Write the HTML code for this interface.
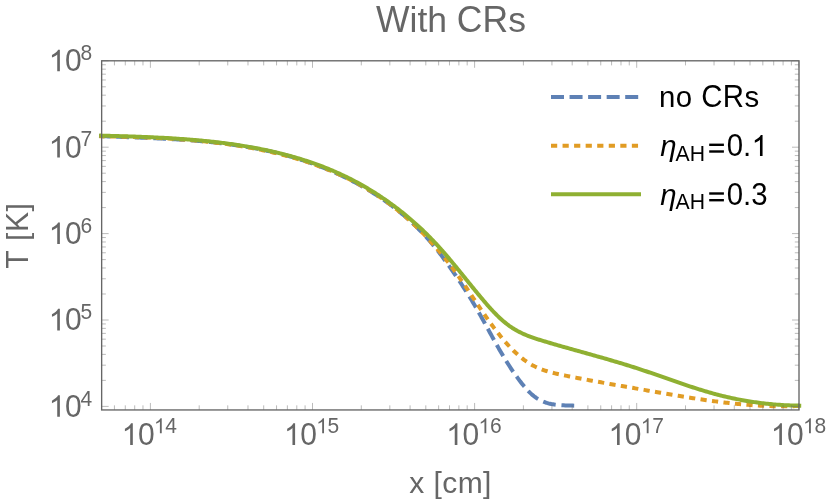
<!DOCTYPE html>
<html><head><meta charset="utf-8"><title>With CRs</title>
<style>
html,body{margin:0;padding:0;background:#fff;}
svg{display:block;font-family:"Liberation Sans",sans-serif;font-kerning:none;will-change:transform;}
</style></head>
<body>
<svg width="830" height="503" viewBox="0 0 830 503">
<rect width="830" height="503" fill="#fff"/>
<g fill="none" stroke-linejoin="round">
<path d="M99.00,136.00 L100.50,136.06 L102.00,136.13 L103.50,136.19 L105.00,136.26 L106.50,136.32 L108.00,136.38 L109.51,136.44 L111.01,136.50 L112.51,136.56 L114.02,136.62 L115.52,136.68 L117.02,136.74 L118.53,136.80 L120.03,136.86 L121.54,136.91 L123.05,136.97 L124.55,137.03 L126.06,137.09 L127.56,137.14 L129.07,137.20 L130.58,137.26 L132.08,137.32 L133.59,137.38 L135.10,137.44 L136.61,137.49 L138.12,137.55 L139.62,137.61 L141.13,137.68 L142.64,137.74 L144.15,137.80 L145.66,137.86 L147.17,137.92 L148.67,137.99 L150.18,138.05 L151.69,138.12 L153.20,138.19 L154.71,138.26 L156.22,138.33 L157.73,138.40 L159.24,138.47 L160.74,138.54 L162.25,138.62 L163.76,138.69 L165.27,138.77 L166.78,138.85 L168.29,138.93 L169.79,139.01 L171.30,139.10 L172.81,139.18 L174.32,139.27 L175.83,139.36 L177.33,139.45 L178.84,139.54 L180.35,139.64 L181.85,139.74 L183.36,139.84 L184.87,139.94 L186.37,140.04 L187.88,140.15 L189.38,140.26 L190.89,140.37 L192.39,140.49 L193.90,140.60 L195.40,140.72 L196.90,140.84 L198.41,140.97 L199.91,141.10 L201.41,141.23 L202.91,141.36 L204.41,141.50 L205.92,141.64 L207.42,141.78 L208.92,141.92 L210.42,142.07 L211.91,142.23 L213.41,142.38 L214.91,142.54 L216.41,142.70 L217.90,142.87 L219.40,143.04 L220.90,143.21 L222.39,143.39 L223.89,143.57 L225.38,143.75 L226.87,143.94 L228.36,144.13 L229.86,144.33 L231.35,144.53 L232.84,144.73 L234.33,144.94 L235.81,145.15 L237.30,145.37 L238.79,145.59 L240.28,145.81 L241.76,146.04 L243.25,146.28 L244.73,146.52 L246.21,146.76 L247.70,147.01 L249.18,147.26 L250.66,147.52 L252.14,147.78 L253.62,148.05 L255.09,148.32 L256.57,148.60 L258.05,148.88 L259.52,149.17 L260.99,149.46 L262.47,149.76 L263.94,150.06 L265.41,150.37 L266.88,150.68 L268.35,151.00 L269.82,151.33 L271.28,151.66 L272.75,151.99 L274.21,152.33 L275.68,152.68 L277.14,153.04 L278.60,153.39 L280.06,153.76 L281.52,154.13 L282.98,154.51 L284.43,154.89 L285.89,155.28 L287.34,155.68 L288.79,156.08 L290.25,156.49 L291.70,156.90 L293.14,157.32 L294.59,157.75 L296.04,158.18 L297.48,158.62 L298.93,159.07 L300.37,159.52 L301.81,159.98 L303.25,160.45 L304.68,160.92 L306.12,161.40 L307.55,161.89 L308.99,162.38 L310.42,162.88 L311.84,163.39 L313.27,163.90 L314.69,164.42 L316.12,164.95 L317.54,165.48 L318.95,166.02 L320.37,166.57 L321.78,167.12 L323.19,167.68 L324.60,168.25 L326.01,168.82 L327.41,169.40 L328.81,169.98 L330.21,170.57 L331.60,171.17 L332.99,171.78 L334.38,172.39 L335.77,173.01 L337.15,173.63 L338.53,174.26 L339.91,174.90 L341.28,175.54 L342.65,176.19 L344.02,176.85 L345.38,177.52 L346.74,178.19 L348.10,178.86 L349.45,179.55 L350.80,180.24 L352.15,180.93 L353.49,181.64 L354.83,182.34 L356.17,183.06 L357.50,183.78 L358.82,184.51 L360.15,185.25 L361.47,185.99 L362.78,186.74 L364.09,187.49 L365.40,188.26 L366.70,189.02 L368.00,189.80 L369.29,190.58 L370.58,191.37 L371.86,192.16 L373.14,192.96 L374.42,193.77 L375.69,194.58 L376.96,195.40 L378.22,196.23 L379.47,197.06 L380.72,197.90 L381.97,198.75 L383.21,199.60 L384.44,200.46 L385.68,201.32 L386.90,202.20 L388.12,203.07 L389.33,203.96 L390.54,204.85 L391.75,205.75 L392.95,206.65 L394.14,207.56 L395.32,208.48 L396.51,209.40 L397.68,210.33 L398.85,211.27 L400.01,212.21 L401.17,213.16 L402.32,214.12 L403.47,215.08 L404.61,216.05 L405.74,217.02 L406.87,218.01 L407.99,218.99 L409.10,219.99 L410.21,220.99 L411.31,222.00 L412.40,223.01 L413.49,224.03 L414.57,225.06 L415.65,226.09 L416.72,227.13 L417.78,228.18 L418.83,229.23 L419.88,230.29 L420.92,231.35 L421.95,232.42 L422.98,233.50 L423.99,234.59 L425.01,235.68 L426.01,236.77 L427.01,237.88 L428.00,238.99 L428.98,240.10 L429.95,241.23 L430.92,242.36 L431.88,243.49 L432.83,244.63 L433.78,245.78 L434.72,246.93 L435.66,248.09 L436.59,249.25 L437.51,250.42 L438.43,251.60 L439.35,252.78 L440.26,253.96 L441.16,255.15 L442.06,256.35 L442.96,257.55 L443.85,258.76 L444.74,259.97 L445.63,261.18 L446.51,262.40 L447.39,263.62 L448.27,264.85 L449.15,266.08 L450.02,267.32 L450.89,268.56 L451.76,269.80 L452.63,271.05 L453.49,272.30 L454.36,273.56 L455.22,274.82 L456.08,276.08 L456.94,277.34 L457.80,278.61 L458.65,279.88 L459.50,281.16 L460.35,282.44 L461.20,283.72 L462.04,285.00 L462.88,286.29 L463.72,287.57 L464.55,288.87 L465.38,290.16 L466.21,291.45 L467.03,292.75 L467.85,294.05 L468.66,295.35 L469.47,296.66 L470.27,297.96 L471.07,299.27 L471.86,300.58 L472.65,301.89 L473.43,303.20 L474.21,304.51 L474.98,305.82 L475.75,307.14 L476.51,308.45 L477.27,309.77 L478.02,311.09 L478.77,312.40 L479.51,313.72 L480.26,315.04 L480.99,316.36 L481.73,317.68 L482.46,319.00 L483.19,320.32 L483.92,321.64 L484.65,322.96 L485.37,324.28 L486.10,325.59 L486.82,326.91 L487.54,328.23 L488.26,329.55 L488.98,330.86 L489.70,332.18 L490.42,333.49 L491.14,334.81 L491.86,336.12 L492.58,337.43 L493.31,338.74 L494.03,340.05 L494.76,341.36 L495.49,342.66 L496.22,343.97 L496.95,345.27 L497.69,346.57 L498.43,347.87 L499.17,349.16 L499.92,350.46 L500.67,351.75 L501.42,353.04 L502.18,354.32 L502.94,355.61 L503.71,356.89 L504.48,358.17 L505.26,359.44 L506.05,360.71 L506.84,361.98 L507.63,363.25 L508.44,364.51 L509.25,365.77 L510.06,367.03 L510.89,368.28 L511.72,369.53 L512.56,370.77 L513.41,372.01 L514.26,373.25 L515.12,374.48 L516.00,375.71 L516.88,376.93 L517.77,378.15 L518.67,379.37 L519.58,380.58 L520.50,381.78 L521.43,382.99 L522.38,384.18 L523.33,385.36 L524.30,386.53 L525.29,387.69 L526.29,388.82 L527.30,389.94 L528.34,391.04 L529.40,392.10 L530.47,393.14 L531.57,394.15 L532.69,395.13 L533.84,396.07 L535.01,396.97 L536.21,397.83 L537.44,398.65 L538.69,399.42 L539.98,400.14 L541.29,400.81 L542.64,401.43 L544.02,401.99 L545.43,402.49 L546.87,402.94 L548.34,403.35 L549.83,403.70 L551.34,404.02 L552.86,404.29 L554.40,404.53 L555.95,404.73 L557.51,404.90 L559.06,405.05 L560.62,405.17 L562.18,405.27 L563.73,405.35 L565.28,405.42 L566.81,405.47 L568.33,405.51 L569.83,405.55 L571.31,405.58 L572.76,405.62 L574.19,405.66" stroke="#5E81B5" stroke-width="4.0" stroke-dasharray="12.8 5.8" stroke-dashoffset="1.4"/>
<path d="M99.32,136.31 L100.77,136.33 L102.23,136.36 L103.69,136.38 L105.15,136.40 L106.62,136.43 L108.08,136.45 L109.55,136.48 L111.02,136.50 L112.49,136.53 L113.96,136.56 L115.44,136.59 L116.91,136.62 L118.39,136.65 L119.87,136.68 L121.35,136.72 L122.83,136.75 L124.31,136.79 L125.80,136.82 L127.28,136.86 L128.77,136.90 L130.26,136.94 L131.75,136.99 L133.24,137.03 L134.73,137.08 L136.23,137.12 L137.72,137.17 L139.21,137.22 L140.71,137.27 L142.21,137.32 L143.71,137.38 L145.21,137.44 L146.71,137.49 L148.21,137.55 L149.71,137.62 L151.21,137.68 L152.72,137.75 L154.22,137.81 L155.73,137.88 L157.23,137.95 L158.74,138.03 L160.25,138.10 L161.76,138.18 L163.27,138.26 L164.78,138.34 L166.29,138.43 L167.80,138.51 L169.31,138.60 L170.82,138.69 L172.33,138.79 L173.84,138.88 L175.36,138.98 L176.87,139.08 L178.38,139.19 L179.89,139.29 L181.41,139.40 L182.92,139.51 L184.44,139.63 L185.95,139.74 L187.47,139.86 L188.98,139.99 L190.49,140.11 L192.01,140.24 L193.52,140.37 L195.04,140.50 L196.55,140.64 L198.07,140.78 L199.58,140.92 L201.09,141.07 L202.61,141.22 L204.12,141.37 L205.63,141.53 L207.15,141.69 L208.66,141.85 L210.17,142.01 L211.68,142.18 L213.20,142.35 L214.71,142.53 L216.22,142.71 L217.73,142.89 L219.24,143.08 L220.75,143.27 L222.25,143.46 L223.76,143.66 L225.27,143.86 L226.78,144.06 L228.28,144.27 L229.79,144.48 L231.29,144.70 L232.79,144.92 L234.30,145.14 L235.80,145.37 L237.30,145.60 L238.80,145.84 L240.30,146.08 L241.79,146.32 L243.29,146.57 L244.79,146.82 L246.28,147.08 L247.77,147.34 L249.27,147.60 L250.76,147.87 L252.25,148.14 L253.73,148.42 L255.22,148.71 L256.71,148.99 L258.19,149.28 L259.68,149.58 L261.16,149.88 L262.64,150.18 L264.12,150.49 L265.59,150.81 L267.07,151.13 L268.54,151.45 L270.02,151.78 L271.49,152.11 L272.96,152.45 L274.42,152.80 L275.89,153.15 L277.35,153.50 L278.82,153.86 L280.28,154.22 L281.73,154.59 L283.19,154.96 L284.65,155.34 L286.10,155.73 L287.55,156.12 L289.00,156.51 L290.45,156.91 L291.89,157.32 L293.33,157.73 L294.77,158.14 L296.21,158.57 L297.65,158.99 L299.08,159.43 L300.52,159.87 L301.95,160.31 L303.37,160.76 L304.80,161.21 L306.22,161.68 L307.64,162.14 L309.06,162.62 L310.47,163.10 L311.89,163.58 L313.30,164.07 L314.70,164.57 L316.11,165.07 L317.51,165.58 L318.91,166.09 L320.31,166.61 L321.70,167.14 L323.09,167.67 L324.48,168.21 L325.87,168.76 L327.25,169.31 L328.63,169.87 L330.01,170.44 L331.38,171.01 L332.76,171.58 L334.12,172.17 L335.49,172.76 L336.85,173.36 L338.21,173.96 L339.57,174.57 L340.92,175.19 L342.27,175.81 L343.62,176.44 L344.96,177.08 L346.30,177.72 L347.64,178.38 L348.97,179.03 L350.30,179.70 L351.63,180.37 L352.95,181.05 L354.27,181.74 L355.59,182.43 L356.90,183.13 L358.21,183.84 L359.52,184.55 L360.82,185.27 L362.12,186.00 L363.41,186.74 L364.70,187.48 L365.99,188.23 L367.27,188.99 L368.55,189.76 L369.83,190.53 L371.10,191.31 L372.37,192.10 L373.63,192.90 L374.89,193.70 L376.15,194.52 L377.40,195.34 L378.65,196.16 L379.89,197.00 L381.13,197.84 L382.37,198.69 L383.60,199.55 L384.83,200.42 L386.05,201.29 L387.27,202.17 L388.48,203.07 L389.69,203.96 L390.90,204.87 L392.10,205.79 L393.30,206.71 L394.49,207.64 L395.68,208.58 L396.86,209.52 L398.04,210.48 L399.22,211.44 L400.39,212.40 L401.55,213.38 L402.71,214.36 L403.87,215.35 L405.02,216.34 L406.17,217.35 L407.31,218.35 L408.45,219.37 L409.58,220.39 L410.71,221.42 L411.83,222.45 L412.95,223.49 L414.06,224.54 L415.17,225.59 L416.27,226.65 L417.37,227.72 L418.46,228.79 L419.55,229.86 L420.63,230.94 L421.71,232.03 L422.78,233.12 L423.85,234.22 L424.91,235.32 L425.97,236.43 L427.02,237.54 L428.06,238.66 L429.10,239.78 L430.14,240.91 L431.17,242.04 L432.19,243.17 L433.21,244.31 L434.23,245.45 L435.23,246.60 L436.24,247.75 L437.23,248.91 L438.23,250.07 L439.21,251.23 L440.19,252.40 L441.17,253.57 L442.13,254.74 L443.10,255.92 L444.05,257.10 L445.01,258.29 L445.95,259.47 L446.89,260.66 L447.83,261.86 L448.75,263.05 L449.68,264.25 L450.59,265.45 L451.50,266.65 L452.41,267.86 L453.30,269.07 L454.20,270.28 L455.08,271.49 L455.96,272.70 L456.84,273.92 L457.71,275.14 L458.57,276.36 L459.43,277.58 L460.29,278.80 L461.14,280.03 L461.98,281.25 L462.83,282.48 L463.67,283.71 L464.51,284.94 L465.34,286.17 L466.17,287.40 L467.00,288.63 L467.83,289.86 L468.66,291.09 L469.48,292.33 L470.31,293.56 L471.13,294.80 L471.95,296.03 L472.78,297.26 L473.60,298.50 L474.42,299.73 L475.24,300.97 L476.07,302.20 L476.89,303.43 L477.72,304.66 L478.54,305.90 L479.37,307.13 L480.20,308.36 L481.04,309.59 L481.87,310.82 L482.71,312.04 L483.56,313.27 L484.40,314.50 L485.25,315.72 L486.11,316.94 L486.96,318.16 L487.83,319.38 L488.69,320.60 L489.57,321.81 L490.44,323.03 L491.33,324.24 L492.22,325.45 L493.11,326.65 L494.01,327.86 L494.92,329.06 L495.84,330.26 L496.76,331.46 L497.69,332.65 L498.63,333.84 L499.58,335.03 L500.53,336.21 L501.50,337.40 L502.47,338.57 L503.45,339.75 L504.44,340.91 L505.44,342.07 L506.45,343.22 L507.47,344.36 L508.50,345.49 L509.54,346.61 L510.59,347.72 L511.65,348.82 L512.72,349.90 L513.81,350.97 L514.90,352.03 L516.00,353.06 L517.12,354.08 L518.25,355.09 L519.39,356.07 L520.55,357.03 L521.71,357.98 L522.89,358.90 L524.08,359.80 L525.29,360.67 L526.50,361.52 L527.74,362.35 L528.98,363.15 L530.24,363.92 L531.51,364.67 L532.80,365.38 L534.10,366.07 L535.42,366.72 L536.75,367.35 L538.09,367.95 L539.45,368.52 L540.82,369.06 L542.20,369.58 L543.60,370.08 L545.00,370.56 L546.41,371.01 L547.83,371.45 L549.26,371.86 L550.70,372.26 L552.15,372.65 L553.60,373.02 L555.06,373.37 L556.52,373.72 L557.99,374.05 L559.46,374.37 L560.94,374.69 L562.42,375.00 L563.90,375.30 L565.38,375.60 L566.86,375.90 L568.35,376.19 L569.83,376.49 L571.31,376.78 L572.80,377.07 L574.28,377.36 L575.77,377.65 L577.25,377.93 L578.73,378.22 L580.22,378.50 L581.70,378.78 L583.19,379.06 L584.67,379.34 L586.16,379.62 L587.64,379.90 L589.13,380.17 L590.62,380.45 L592.10,380.72 L593.59,380.99 L595.07,381.27 L596.56,381.54 L598.04,381.81 L599.53,382.08 L601.02,382.34 L602.50,382.61 L603.99,382.88 L605.47,383.14 L606.96,383.41 L608.45,383.67 L609.93,383.94 L611.42,384.20 L612.90,384.46 L614.39,384.72 L615.88,384.98 L617.36,385.25 L618.85,385.51 L620.34,385.77 L621.82,386.03 L623.31,386.28 L624.79,386.54 L626.28,386.80 L627.77,387.06 L629.25,387.32 L630.74,387.58 L632.22,387.83 L633.71,388.09 L635.19,388.35 L636.68,388.61 L638.17,388.86 L639.65,389.12 L641.14,389.38 L642.62,389.64 L644.11,389.89 L645.59,390.15 L647.08,390.41 L648.56,390.67 L650.05,390.92 L651.53,391.18 L653.01,391.44 L654.50,391.70 L655.98,391.96 L657.47,392.21 L658.95,392.47 L660.43,392.73 L661.92,392.99 L663.40,393.24 L664.89,393.50 L666.37,393.75 L667.85,394.01 L669.34,394.26 L670.82,394.51 L672.31,394.76 L673.79,395.01 L675.28,395.26 L676.76,395.51 L678.24,395.76 L679.73,396.01 L681.21,396.25 L682.70,396.50 L684.18,396.74 L685.67,396.98 L687.15,397.22 L688.64,397.46 L690.12,397.69 L691.61,397.93 L693.09,398.16 L694.58,398.39 L696.06,398.62 L697.55,398.84 L699.04,399.07 L700.52,399.29 L702.01,399.51 L703.50,399.73 L704.98,399.94 L706.47,400.16 L707.96,400.37 L709.45,400.58 L710.94,400.78 L712.42,400.98 L713.91,401.18 L715.40,401.38 L716.89,401.58 L718.38,401.77 L719.87,401.96 L721.36,402.14 L722.85,402.32 L724.34,402.50 L725.84,402.68 L727.33,402.85 L728.82,403.02 L730.31,403.18 L731.81,403.35 L733.30,403.51 L734.79,403.66 L736.29,403.81 L737.78,403.96 L739.28,404.10 L740.77,404.24 L742.27,404.38 L743.77,404.51 L745.26,404.64 L746.76,404.76 L748.26,404.88 L749.76,404.99 L751.26,405.10 L752.76,405.21 L754.26,405.31 L755.76,405.41 L757.26,405.50 L758.76,405.59 L760.27,405.67 L761.77,405.75 L763.28,405.82 L764.78,405.89 L766.29,405.95 L767.79,406.01 L769.30,406.06 L770.80,406.11 L772.31,406.15 L773.82,406.19 L775.33,406.22 L776.84,406.24 L778.35,406.26 L779.86,406.28 L781.38,406.29 L782.89,406.29 L784.40,406.29 L785.92,406.28 L787.43,406.26 L788.95,406.24 L790.46,406.22 L791.98,406.18 L793.50,406.14 L795.02,406.10 L796.54,406.05 L798.06,405.99 L799.58,405.92 L801.10,405.85" stroke="#E19C24" stroke-width="4.0" stroke-dasharray="6.2 5.35" stroke-dashoffset="1.0"/>
<path d="M99.18,135.55 L100.65,135.59 L102.13,135.63 L103.60,135.67 L105.08,135.71 L106.56,135.75 L108.04,135.79 L109.52,135.83 L111.00,135.88 L112.49,135.92 L113.97,135.96 L115.46,136.00 L116.95,136.05 L118.43,136.09 L119.92,136.13 L121.41,136.18 L122.90,136.22 L124.40,136.27 L125.89,136.32 L127.38,136.36 L128.88,136.41 L130.38,136.46 L131.87,136.51 L133.37,136.56 L134.87,136.62 L136.37,136.67 L137.87,136.72 L139.37,136.78 L140.87,136.84 L142.37,136.90 L143.88,136.96 L145.38,137.02 L146.88,137.08 L148.39,137.14 L149.89,137.21 L151.40,137.27 L152.91,137.34 L154.41,137.41 L155.92,137.48 L157.43,137.56 L158.94,137.63 L160.44,137.71 L161.95,137.78 L163.46,137.86 L164.97,137.95 L166.48,138.03 L167.99,138.12 L169.50,138.20 L171.01,138.29 L172.52,138.39 L174.03,138.48 L175.54,138.58 L177.05,138.68 L178.57,138.78 L180.08,138.88 L181.59,138.99 L183.10,139.09 L184.61,139.20 L186.12,139.32 L187.63,139.43 L189.14,139.55 L190.65,139.67 L192.16,139.79 L193.67,139.92 L195.18,140.05 L196.69,140.18 L198.20,140.32 L199.71,140.45 L201.22,140.59 L202.73,140.74 L204.24,140.88 L205.75,141.03 L207.26,141.18 L208.76,141.34 L210.27,141.50 L211.78,141.66 L213.28,141.83 L214.79,142.00 L216.29,142.17 L217.80,142.34 L219.30,142.52 L220.80,142.70 L222.31,142.89 L223.81,143.08 L225.31,143.27 L226.81,143.47 L228.31,143.67 L229.81,143.87 L231.30,144.08 L232.80,144.29 L234.30,144.51 L235.79,144.73 L237.29,144.95 L238.78,145.18 L240.27,145.41 L241.76,145.65 L243.25,145.89 L244.74,146.13 L246.23,146.38 L247.72,146.63 L249.20,146.89 L250.69,147.15 L252.17,147.42 L253.66,147.69 L255.14,147.96 L256.62,148.24 L258.10,148.53 L259.57,148.81 L261.05,149.11 L262.52,149.41 L264.00,149.71 L265.47,150.02 L266.94,150.33 L268.41,150.65 L269.88,150.97 L271.34,151.29 L272.81,151.63 L274.27,151.96 L275.73,152.31 L277.19,152.65 L278.65,153.01 L280.11,153.36 L281.56,153.73 L283.02,154.09 L284.47,154.47 L285.92,154.85 L287.37,155.23 L288.81,155.62 L290.26,156.02 L291.70,156.42 L293.14,156.83 L294.58,157.24 L296.02,157.66 L297.45,158.08 L298.89,158.51 L300.32,158.95 L301.75,159.39 L303.17,159.83 L304.60,160.29 L306.02,160.75 L307.44,161.21 L308.86,161.68 L310.28,162.16 L311.69,162.65 L313.10,163.14 L314.51,163.63 L315.92,164.14 L317.33,164.64 L318.73,165.16 L320.13,165.68 L321.53,166.21 L322.92,166.74 L324.32,167.29 L325.71,167.83 L327.09,168.39 L328.48,168.95 L329.86,169.52 L331.24,170.09 L332.62,170.68 L334.00,171.26 L335.37,171.86 L336.74,172.46 L338.11,173.07 L339.47,173.69 L340.83,174.31 L342.19,174.94 L343.55,175.58 L344.90,176.23 L346.25,176.88 L347.60,177.54 L348.95,178.21 L350.29,178.88 L351.63,179.56 L352.96,180.25 L354.30,180.95 L355.63,181.65 L356.95,182.37 L358.28,183.08 L359.60,183.81 L360.92,184.54 L362.23,185.28 L363.54,186.03 L364.85,186.78 L366.15,187.54 L367.45,188.31 L368.75,189.09 L370.04,189.87 L371.33,190.66 L372.62,191.45 L373.90,192.25 L375.18,193.06 L376.45,193.87 L377.73,194.70 L378.99,195.52 L380.26,196.36 L381.52,197.20 L382.77,198.04 L384.02,198.90 L385.27,199.76 L386.51,200.62 L387.75,201.50 L388.99,202.37 L390.22,203.26 L391.44,204.15 L392.66,205.04 L393.88,205.95 L395.09,206.85 L396.30,207.77 L397.51,208.69 L398.71,209.61 L399.90,210.55 L401.09,211.48 L402.28,212.43 L403.46,213.37 L404.63,214.33 L405.80,215.29 L406.97,216.25 L408.13,217.22 L409.29,218.20 L410.44,219.18 L411.58,220.17 L412.73,221.16 L413.86,222.16 L414.99,223.16 L416.12,224.17 L417.24,225.18 L418.35,226.20 L419.46,227.22 L420.57,228.25 L421.67,229.28 L422.76,230.32 L423.85,231.36 L424.93,232.41 L426.01,233.46 L427.08,234.51 L428.14,235.58 L429.20,236.64 L430.26,237.71 L431.30,238.79 L432.35,239.87 L433.38,240.95 L434.41,242.04 L435.44,243.13 L436.46,244.23 L437.47,245.33 L438.48,246.43 L439.48,247.54 L440.48,248.66 L441.48,249.77 L442.47,250.89 L443.45,252.01 L444.44,253.14 L445.41,254.27 L446.39,255.40 L447.36,256.54 L448.33,257.67 L449.30,258.81 L450.26,259.96 L451.22,261.10 L452.18,262.25 L453.13,263.40 L454.09,264.55 L455.04,265.71 L455.99,266.86 L456.94,268.02 L457.88,269.18 L458.83,270.34 L459.78,271.51 L460.72,272.67 L461.67,273.84 L462.61,275.00 L463.55,276.17 L464.50,277.34 L465.44,278.51 L466.39,279.68 L467.33,280.85 L468.28,282.02 L469.23,283.19 L470.18,284.36 L471.13,285.53 L472.08,286.70 L473.03,287.87 L473.99,289.04 L474.94,290.21 L475.90,291.38 L476.87,292.55 L477.83,293.72 L478.80,294.89 L479.77,296.06 L480.75,297.22 L481.72,298.39 L482.71,299.55 L483.69,300.72 L484.68,301.88 L485.68,303.03 L486.68,304.19 L487.68,305.34 L488.69,306.48 L489.71,307.62 L490.73,308.75 L491.77,309.87 L492.80,310.99 L493.85,312.09 L494.91,313.18 L495.97,314.26 L497.04,315.33 L498.13,316.39 L499.22,317.43 L500.32,318.46 L501.44,319.47 L502.57,320.46 L503.70,321.44 L504.85,322.40 L506.02,323.34 L507.19,324.25 L508.38,325.15 L509.58,326.03 L510.80,326.88 L512.03,327.71 L513.28,328.51 L514.54,329.29 L515.82,330.04 L517.11,330.77 L518.42,331.47 L519.74,332.15 L521.08,332.81 L522.42,333.44 L523.78,334.06 L525.15,334.65 L526.53,335.23 L527.92,335.79 L529.32,336.33 L530.72,336.86 L532.13,337.37 L533.55,337.87 L534.97,338.35 L536.40,338.83 L537.84,339.29 L539.28,339.74 L540.72,340.19 L542.16,340.63 L543.60,341.07 L545.05,341.50 L546.49,341.93 L547.93,342.36 L549.38,342.78 L550.82,343.21 L552.27,343.63 L553.72,344.05 L555.16,344.47 L556.61,344.89 L558.05,345.30 L559.50,345.72 L560.94,346.13 L562.39,346.55 L563.84,346.96 L565.28,347.37 L566.73,347.78 L568.18,348.19 L569.62,348.59 L571.07,349.00 L572.51,349.41 L573.96,349.81 L575.41,350.22 L576.85,350.63 L578.30,351.03 L579.75,351.43 L581.19,351.84 L582.64,352.24 L584.09,352.65 L585.53,353.05 L586.98,353.46 L588.42,353.86 L589.87,354.27 L591.31,354.68 L592.76,355.08 L594.20,355.49 L595.65,355.90 L597.09,356.31 L598.54,356.72 L599.98,357.13 L601.43,357.54 L602.87,357.95 L604.32,358.37 L605.76,358.78 L607.20,359.20 L608.65,359.62 L610.09,360.03 L611.53,360.46 L612.97,360.88 L614.42,361.30 L615.86,361.73 L617.30,362.16 L618.74,362.59 L620.18,363.02 L621.62,363.46 L623.06,363.89 L624.50,364.33 L625.94,364.78 L627.38,365.22 L628.82,365.67 L630.26,366.12 L631.69,366.57 L633.13,367.03 L634.57,367.48 L636.00,367.95 L637.44,368.41 L638.87,368.88 L640.31,369.35 L641.74,369.82 L643.18,370.30 L644.61,370.78 L646.04,371.26 L647.48,371.75 L648.91,372.24 L650.34,372.72 L651.77,373.22 L653.20,373.71 L654.63,374.20 L656.06,374.70 L657.50,375.20 L658.93,375.70 L660.36,376.19 L661.79,376.69 L663.22,377.19 L664.65,377.70 L666.08,378.20 L667.51,378.70 L668.94,379.20 L670.37,379.70 L671.80,380.20 L673.23,380.69 L674.66,381.19 L676.09,381.69 L677.52,382.18 L678.95,382.67 L680.38,383.17 L681.81,383.66 L683.25,384.14 L684.68,384.63 L686.11,385.11 L687.55,385.59 L688.98,386.07 L690.41,386.54 L691.85,387.01 L693.28,387.48 L694.72,387.94 L696.15,388.40 L697.59,388.86 L699.03,389.31 L700.46,389.76 L701.90,390.20 L703.34,390.64 L704.78,391.08 L706.22,391.51 L707.66,391.93 L709.11,392.35 L710.55,392.76 L711.99,393.17 L713.44,393.57 L714.88,393.97 L716.33,394.35 L717.78,394.74 L719.23,395.11 L720.68,395.48 L722.13,395.84 L723.58,396.20 L725.03,396.55 L726.49,396.89 L727.94,397.22 L729.40,397.55 L730.85,397.87 L732.31,398.19 L733.77,398.50 L735.23,398.80 L736.70,399.09 L738.16,399.38 L739.63,399.66 L741.09,399.94 L742.56,400.21 L744.03,400.47 L745.50,400.73 L746.97,400.98 L748.45,401.22 L749.92,401.46 L751.40,401.69 L752.88,401.91 L754.36,402.13 L755.84,402.34 L757.33,402.55 L758.81,402.75 L760.30,402.94 L761.79,403.13 L763.28,403.31 L764.77,403.48 L766.27,403.65 L767.76,403.81 L769.26,403.96 L770.76,404.11 L772.26,404.25 L773.77,404.38 L775.27,404.51 L776.78,404.63 L778.29,404.74 L779.81,404.85 L781.32,404.95 L782.84,405.05 L784.36,405.13 L785.88,405.22 L787.40,405.29 L788.93,405.36 L790.46,405.42 L791.99,405.47 L793.52,405.52 L795.05,405.56 L796.59,405.60 L798.13,405.62 L799.67,405.64 L801.22,405.66" stroke="#8FB032" stroke-width="4.0"/>
</g>
<path d="M114.44,409.95 v-4.6 M114.44,60.8 v4.6 M125.29,409.95 v-4.6 M125.29,60.8 v4.6 M134.69,409.95 v-4.6 M134.69,60.8 v4.6 M142.98,409.95 v-4.6 M142.98,60.8 v4.6 M150.40,409.95 v-7.0 M150.40,60.8 v7.0 M199.20,409.95 v-4.6 M199.20,60.8 v4.6 M227.74,409.95 v-4.6 M227.74,60.8 v4.6 M247.99,409.95 v-4.6 M247.99,60.8 v4.6 M263.70,409.95 v-4.6 M263.70,60.8 v4.6 M276.54,409.95 v-4.6 M276.54,60.8 v4.6 M287.39,409.95 v-4.6 M287.39,60.8 v4.6 M296.79,409.95 v-4.6 M296.79,60.8 v4.6 M305.08,409.95 v-4.6 M305.08,60.8 v4.6 M312.50,409.95 v-7.0 M312.50,60.8 v7.0 M361.30,409.95 v-4.6 M361.30,60.8 v4.6 M389.84,409.95 v-4.6 M389.84,60.8 v4.6 M410.09,409.95 v-4.6 M410.09,60.8 v4.6 M425.80,409.95 v-4.6 M425.80,60.8 v4.6 M438.64,409.95 v-4.6 M438.64,60.8 v4.6 M449.49,409.95 v-4.6 M449.49,60.8 v4.6 M458.89,409.95 v-4.6 M458.89,60.8 v4.6 M467.18,409.95 v-4.6 M467.18,60.8 v4.6 M474.60,409.95 v-7.0 M474.60,60.8 v7.0 M523.40,409.95 v-4.6 M523.40,60.8 v4.6 M551.94,409.95 v-4.6 M551.94,60.8 v4.6 M572.19,409.95 v-4.6 M572.19,60.8 v4.6 M587.90,409.95 v-4.6 M587.90,60.8 v4.6 M600.74,409.95 v-4.6 M600.74,60.8 v4.6 M611.59,409.95 v-4.6 M611.59,60.8 v4.6 M620.99,409.95 v-4.6 M620.99,60.8 v4.6 M629.28,409.95 v-4.6 M629.28,60.8 v4.6 M636.70,409.95 v-7.0 M636.70,60.8 v7.0 M685.50,409.95 v-4.6 M685.50,60.8 v4.6 M714.04,409.95 v-4.6 M714.04,60.8 v4.6 M734.29,409.95 v-4.6 M734.29,60.8 v4.6 M750.00,409.95 v-4.6 M750.00,60.8 v4.6 M762.84,409.95 v-4.6 M762.84,60.8 v4.6 M773.69,409.95 v-4.6 M773.69,60.8 v4.6 M783.09,409.95 v-4.6 M783.09,60.8 v4.6 M791.38,409.95 v-4.6 M791.38,60.8 v4.6 M798.80,409.95 v-7.0 M798.80,60.8 v7.0 M101.65,406.40 h7.0 M799.0,406.40 h-7.0 M101.65,380.39 h4.2 M799.0,380.39 h-4.2 M101.65,365.18 h4.2 M799.0,365.18 h-4.2 M101.65,354.38 h4.2 M799.0,354.38 h-4.2 M101.65,346.01 h4.2 M799.0,346.01 h-4.2 M101.65,339.17 h4.2 M799.0,339.17 h-4.2 M101.65,333.38 h4.2 M799.0,333.38 h-4.2 M101.65,328.37 h4.2 M799.0,328.37 h-4.2 M101.65,323.95 h4.2 M799.0,323.95 h-4.2 M101.65,320.00 h7.0 M799.0,320.00 h-7.0 M101.65,293.99 h4.2 M799.0,293.99 h-4.2 M101.65,278.78 h4.2 M799.0,278.78 h-4.2 M101.65,267.98 h4.2 M799.0,267.98 h-4.2 M101.65,259.61 h4.2 M799.0,259.61 h-4.2 M101.65,252.77 h4.2 M799.0,252.77 h-4.2 M101.65,246.98 h4.2 M799.0,246.98 h-4.2 M101.65,241.97 h4.2 M799.0,241.97 h-4.2 M101.65,237.55 h4.2 M799.0,237.55 h-4.2 M101.65,233.60 h7.0 M799.0,233.60 h-7.0 M101.65,207.59 h4.2 M799.0,207.59 h-4.2 M101.65,192.38 h4.2 M799.0,192.38 h-4.2 M101.65,181.58 h4.2 M799.0,181.58 h-4.2 M101.65,173.21 h4.2 M799.0,173.21 h-4.2 M101.65,166.37 h4.2 M799.0,166.37 h-4.2 M101.65,160.58 h4.2 M799.0,160.58 h-4.2 M101.65,155.57 h4.2 M799.0,155.57 h-4.2 M101.65,151.15 h4.2 M799.0,151.15 h-4.2 M101.65,147.20 h7.0 M799.0,147.20 h-7.0 M101.65,121.19 h4.2 M799.0,121.19 h-4.2 M101.65,105.98 h4.2 M799.0,105.98 h-4.2 M101.65,95.18 h4.2 M799.0,95.18 h-4.2 M101.65,86.81 h4.2 M799.0,86.81 h-4.2 M101.65,79.97 h4.2 M799.0,79.97 h-4.2 M101.65,74.18 h4.2 M799.0,74.18 h-4.2 M101.65,69.17 h4.2 M799.0,69.17 h-4.2 M101.65,64.75 h4.2 M799.0,64.75 h-4.2 M101.65,60.80 h7.0 M799.0,60.80 h-7.0" stroke="#666666" stroke-width="0.45" fill="none"/>
<rect x="101.65" y="60.8" width="697.35" height="349.15" fill="none" stroke="#666666" stroke-width="1.35"/>
<g fill="#666666">
<path transform="translate(121.64,444.90) scale(0.01465,-0.01465)" d="M763,0H583V1147Q518,1085 412.5,1023T223,930V1104Q373,1174.5 485,1275T644,1470H763Z"/><text transform="translate(137.93,444.90) scale(1.0000,1.0450)" font-size="30" xml:space="preserve">0</text><path transform="translate(153.92,433.30) scale(0.01025,-0.01025)" d="M763,0H583V1147Q518,1085 412.5,1023T223,930V1104Q373,1174.5 485,1275T644,1470H763Z"/><text transform="translate(165.33,433.30) scale(1.0000,1.0800)" font-size="21" xml:space="preserve">4</text>
<path transform="translate(283.92,444.90) scale(0.01465,-0.01465)" d="M763,0H583V1147Q518,1085 412.5,1023T223,930V1104Q373,1174.5 485,1275T644,1470H763Z"/><text transform="translate(300.21,444.90) scale(1.0000,1.0450)" font-size="30" xml:space="preserve">0</text><path transform="translate(316.20,433.30) scale(0.01025,-0.01025)" d="M763,0H583V1147Q518,1085 412.5,1023T223,930V1104Q373,1174.5 485,1275T644,1470H763Z"/><text transform="translate(327.61,433.30) scale(1.0000,1.0800)" font-size="21" xml:space="preserve">5</text>
<path transform="translate(446.20,444.90) scale(0.01465,-0.01465)" d="M763,0H583V1147Q518,1085 412.5,1023T223,930V1104Q373,1174.5 485,1275T644,1470H763Z"/><text transform="translate(462.49,444.90) scale(1.0000,1.0450)" font-size="30" xml:space="preserve">0</text><path transform="translate(478.48,433.30) scale(0.01025,-0.01025)" d="M763,0H583V1147Q518,1085 412.5,1023T223,930V1104Q373,1174.5 485,1275T644,1470H763Z"/><text transform="translate(489.89,433.30) scale(1.0000,1.0800)" font-size="21" xml:space="preserve">6</text>
<path transform="translate(608.48,444.90) scale(0.01465,-0.01465)" d="M763,0H583V1147Q518,1085 412.5,1023T223,930V1104Q373,1174.5 485,1275T644,1470H763Z"/><text transform="translate(624.77,444.90) scale(1.0000,1.0450)" font-size="30" xml:space="preserve">0</text><path transform="translate(640.76,433.30) scale(0.01025,-0.01025)" d="M763,0H583V1147Q518,1085 412.5,1023T223,930V1104Q373,1174.5 485,1275T644,1470H763Z"/><text transform="translate(652.17,433.30) scale(1.0000,1.0800)" font-size="21" xml:space="preserve">7</text>
<path transform="translate(770.76,444.90) scale(0.01465,-0.01465)" d="M763,0H583V1147Q518,1085 412.5,1023T223,930V1104Q373,1174.5 485,1275T644,1470H763Z"/><text transform="translate(787.05,444.90) scale(1.0000,1.0450)" font-size="30" xml:space="preserve">0</text><path transform="translate(803.04,433.30) scale(0.01025,-0.01025)" d="M763,0H583V1147Q518,1085 412.5,1023T223,930V1104Q373,1174.5 485,1275T644,1470H763Z"/><text transform="translate(814.45,433.30) scale(1.0000,1.0800)" font-size="21" xml:space="preserve">8</text>
<path transform="translate(48.69,416.80) scale(0.01465,-0.01465)" d="M763,0H583V1147Q518,1085 412.5,1023T223,930V1104Q373,1174.5 485,1275T644,1470H763Z"/><text transform="translate(64.98,416.80) scale(1.0000,1.0450)" font-size="30" xml:space="preserve">0</text><text transform="translate(80.60,405.60) scale(1.0000,1.0800)" font-size="21" xml:space="preserve">4</text>
<path transform="translate(48.69,330.40) scale(0.01465,-0.01465)" d="M763,0H583V1147Q518,1085 412.5,1023T223,930V1104Q373,1174.5 485,1275T644,1470H763Z"/><text transform="translate(64.98,330.40) scale(1.0000,1.0450)" font-size="30" xml:space="preserve">0</text><text transform="translate(80.60,319.20) scale(1.0000,1.0800)" font-size="21" xml:space="preserve">5</text>
<path transform="translate(48.69,244.00) scale(0.01465,-0.01465)" d="M763,0H583V1147Q518,1085 412.5,1023T223,930V1104Q373,1174.5 485,1275T644,1470H763Z"/><text transform="translate(64.98,244.00) scale(1.0000,1.0450)" font-size="30" xml:space="preserve">0</text><text transform="translate(80.60,232.80) scale(1.0000,1.0800)" font-size="21" xml:space="preserve">6</text>
<path transform="translate(48.69,157.60) scale(0.01465,-0.01465)" d="M763,0H583V1147Q518,1085 412.5,1023T223,930V1104Q373,1174.5 485,1275T644,1470H763Z"/><text transform="translate(64.98,157.60) scale(1.0000,1.0450)" font-size="30" xml:space="preserve">0</text><text transform="translate(80.60,146.40) scale(1.0000,1.0800)" font-size="21" xml:space="preserve">7</text>
<path transform="translate(48.69,71.20) scale(0.01465,-0.01465)" d="M763,0H583V1147Q518,1085 412.5,1023T223,930V1104Q373,1174.5 485,1275T644,1470H763Z"/><text transform="translate(64.98,71.20) scale(1.0000,1.0450)" font-size="30" xml:space="preserve">0</text><text transform="translate(80.60,60.00) scale(1.0000,1.0800)" font-size="21" xml:space="preserve">8</text>
<text transform="translate(376.00,31.60) scale(1.0000,1.0450)" font-size="35.5" xml:space="preserve">W</text><text x="409.51" y="31.60" font-size="35.5" xml:space="preserve">ith </text><text transform="translate(456.86,31.60) scale(1.0000,1.0450)" font-size="35.5" xml:space="preserve">CR</text><text x="508.14" y="31.60" font-size="35.5" xml:space="preserve">s</text>
<text x="409.20" y="492.60" font-size="30" letter-spacing="0.450" xml:space="preserve">x [cm]</text>
<g transform="translate(27.9,268.7) rotate(-90)"><text transform="translate(0.00,0.00) scale(1.0000,1.0450)" font-size="30" letter-spacing="0.550" xml:space="preserve">T</text><text x="18.88" y="0.00" font-size="30" letter-spacing="0.550" xml:space="preserve"> [</text><text transform="translate(36.65,0.00) scale(1.0000,1.0450)" font-size="30" letter-spacing="0.550" xml:space="preserve">K</text><text x="57.20" y="0.00" font-size="30" letter-spacing="0.550" xml:space="preserve">]</text></g>
</g>
<g fill="none" stroke-width="4.0">
<path d="M551,97.05 H641" stroke="#5E81B5" stroke-dasharray="13 5.55"/>
<path d="M551,145.7 H641" stroke="#E19C24" stroke-dasharray="6.2 5.35"/>
<path d="M551,194.2 H641" stroke="#8FB032"/>
</g>
<g fill="#000" font-size="29.4">
<text x="659.10" y="107.20" font-size="29.4" letter-spacing="0.400" xml:space="preserve">no </text><text transform="translate(701.17,107.20) scale(1.0000,1.0450)" font-size="29.4" letter-spacing="0.400" xml:space="preserve">CR</text><text x="744.43" y="107.20" font-size="29.4" letter-spacing="0.400" xml:space="preserve">s</text>
<text x="660.30" y="156.10" font-size="29.4" font-style="italic" xml:space="preserve">η</text><text transform="translate(675.60,160.70) scale(1.0350,1.0450)" font-size="20.5" xml:space="preserve">AH</text><rect x="709.2" y="143.60" width="14.7" height="2.4"/><rect x="709.2" y="150.30" width="14.7" height="2.4"/><text transform="translate(726.70,156.10) scale(1.0000,1.0450)" font-size="29.4" xml:space="preserve">0</text><text x="743.05" y="156.10" font-size="29.4" xml:space="preserve">.</text><path transform="translate(751.60,156.10) scale(0.01436,-0.01436)" d="M763,0H583V1147Q518,1085 412.5,1023T223,930V1104Q373,1174.5 485,1275T644,1470H763Z"/>
<text x="660.30" y="204.80" font-size="29.4" font-style="italic" xml:space="preserve">η</text><text transform="translate(675.60,209.40) scale(1.0350,1.0450)" font-size="20.5" xml:space="preserve">AH</text><rect x="709.2" y="192.30" width="14.7" height="2.4"/><rect x="709.2" y="199.00" width="14.7" height="2.4"/><text transform="translate(726.70,204.80) scale(1.0000,1.0450)" font-size="29.4" xml:space="preserve">0</text><text x="743.05" y="204.80" font-size="29.4" xml:space="preserve">.</text><text transform="translate(751.22,204.80) scale(1.0000,1.0450)" font-size="29.4" xml:space="preserve">3</text>
</g>
</svg>
</body></html>
